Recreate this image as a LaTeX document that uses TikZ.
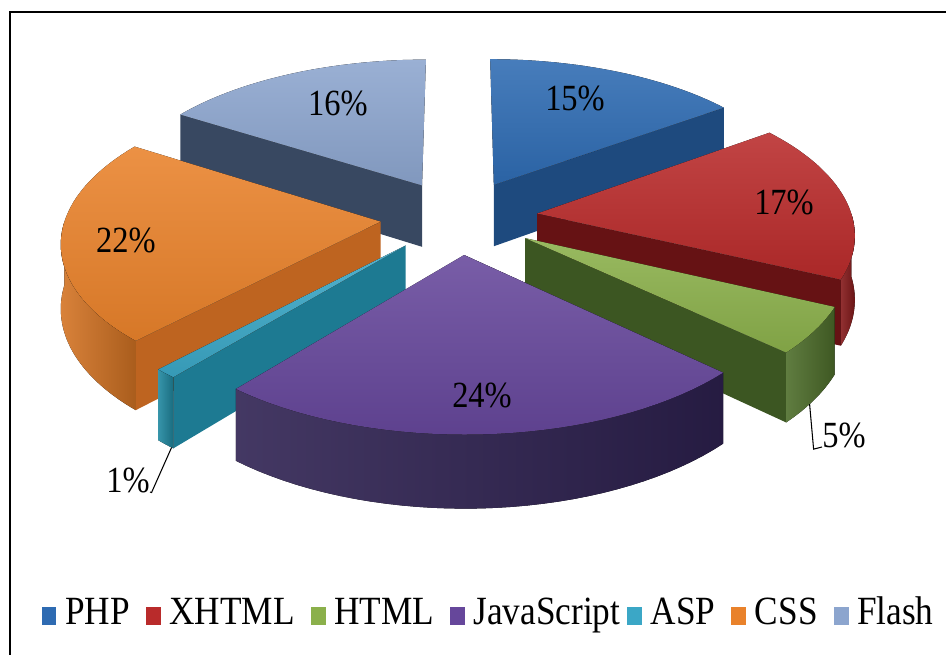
\documentclass[tikz,border=0pt]{standalone}
\usepackage{fontspec}
\setmainfont{Liberation Serif}
\newfontfamily\chartfont[FakeStretch=0.88]{Liberation Serif}
\usetikzlibrary{positioning}

\definecolor{phptop}{HTML}{2E6BB2}
\definecolor{phpside}{HTML}{1E4A7E}
\definecolor{phprim}{HTML}{1E4A7E}
\definecolor{xhtmltop}{HTML}{B92B2B}
\definecolor{xhtmlside}{HTML}{661214}
\definecolor{xhtmlrim}{HTML}{85191B}
\definecolor{htmltop}{HTML}{8BB04B}
\definecolor{htmlside}{HTML}{3C5622}
\definecolor{htmlrim}{HTML}{4E6E2B}
\definecolor{jstop}{HTML}{66479B}
\definecolor{jsside}{HTML}{2C1F4C}
\definecolor{jsrim}{HTML}{2F2252}
\definecolor{asptop}{HTML}{3BA7C6}
\definecolor{aspside}{HTML}{1D7A92}
\definecolor{asprim}{HTML}{2088A0}
\definecolor{csstop}{HTML}{E9822B}
\definecolor{cssside}{HTML}{BE6420}
\definecolor{cssrim}{HTML}{D47424}
\definecolor{flashtop}{HTML}{8CA5CE}
\definecolor{flashside}{HTML}{384861}
\definecolor{flashrim}{HTML}{384861}

\begin{document}
\begin{tikzpicture}[x=0.02cm, y=-0.02cm, samples=36,
    declare function={
        rimu(\ma,\ta,\ra)=0.25*sin(\ma)+\ra*sin(\ta);
        rimv(\ma,\ta,\ra)=0.25*cos(\ma)+\ra*cos(\ta);
        persp(\ma,\ta,\ra)=1/(1+0.12*rimv(\ma,\ta,\ra));
        scrx(\ma,\ta,\ra)=459+315*rimu(\ma,\ta,\ra)*persp(\ma,\ta,\ra);
        scry(\ma,\ta,\ra,\za)=217+(63*\za-148*rimv(\ma,\ta,\ra))*persp(\ma,\ta,\ra);
    }]
    \tikzstyle{topface} = [top color=#1top!88!white, bottom color=#1top!92!black]
    \tikzstyle{sideface} = [fill=#1side]
    \tikzstyle{rimface} = [left color=#1rim!90!white, right color=#1rim!80!black]
    \tikzstyle{pct} = [inner sep=0pt, font=\chartfont\fontsize{21}{24}\selectfont]
    \tikzstyle{swatch} = [inner sep=0pt, minimum width=8.5pt, minimum height=10.8pt]
    \tikzstyle{entry} = [inner sep=0pt, text height=15.1pt, text depth=4.9pt, font=\chartfont\fontsize{22.8}{26}\selectfont]
    \tikzstyle{leader} = [line width=0.6pt]

    \useasboundingbox (0,0) rectangle (946,655);
    \draw[line width=0.8pt] (10,655) -- (10,12) -- (946,12);

    % slices, back to front: bisector/first/last/cut face/wall from/wall to/name
    \foreach \bis/\first/\last/\cut/\wa/\wb/\slice in {
        331.2/302.4/360/302.4/0/0/flash,
        27/0/54/54/0/0/php,
        262.8/223.2/302.4/223.2/223.2/270/css,
        84.6/54/115.2/115.2/90/115.2/xhtml,
        221.4/219.6/223.2/219.6/219.6/223.2/asp,
        124.2/115.2/133.2/133.2/115.2/133.2/html,
        176.4/133.2/219.6/133.2/133.2/219.6/js}
    {
        \fill[sideface=\slice] ({scrx(\bis,\cut,0)},{scry(\bis,\cut,0,0)})
            -- ({scrx(\bis,\cut,1)},{scry(\bis,\cut,1,0)})
            -- ({scrx(\bis,\cut,1)},{scry(\bis,\cut,1,1)})
            -- ({scrx(\bis,\cut,0)},{scry(\bis,\cut,0,1)}) -- cycle;
        \ifdim\wa pt<\wb pt
            \fill[rimface=\slice] plot[domain=\wa:\wb] ({scrx(\bis,\x,1)},{scry(\bis,\x,1,0)})
                -- plot[domain=\wb:\wa] ({scrx(\bis,\x,1)},{scry(\bis,\x,1,1)}) -- cycle;
        \fi
        \fill[topface=\slice] ({scrx(\bis,\first,0)},{scry(\bis,\first,0,0)})
            -- plot[domain=\first:\last] ({scrx(\bis,\x,1)},{scry(\bis,\x,1,0)}) -- cycle;
    }

    % percentages
    \node[pct] (lflash) at (338,103) {16\%};
    \node[pct] (lphp) at (575,98) {15\%};
    \node[pct] (lxhtml) at (784,202) {17\%};
    \node[pct] (lcss) at (126,240) {22\%};
    \node[pct] (ljs) at (482,395) {24\%};
    \node[pct, anchor=base east] (lasp) at (150,492) {1\%};
    \node[pct, anchor=base west] (lhtml) at (822,447) {5\%};

    \coordinate (aspfoot) at ({scrx(221.4,220,1)},{scry(221.4,220,1,1)});
    \coordinate (htmlfoot) at ({scrx(124.2,126,1)},{scry(124.2,126,1,1)});
    \draw[leader] (aspfoot) -- ++(-20,45) -- (lasp.base east);
    \draw[leader] (htmlfoot) -- ++(4,45) -- (lhtml.base west);

    % legend
    \node[swatch, fill=phptop] (kphp) at (49,616) {};
    \node[entry, right=4.5pt of kphp] (tphp) {PHP};
    \node[swatch, fill=xhtmltop, right=8.7pt of tphp] (kxhtml) {};
    \node[entry, right=4.5pt of kxhtml] (txhtml) {XHTML};
    \node[swatch, fill=htmltop, right=8.7pt of txhtml] (khtml) {};
    \node[entry, right=4.5pt of khtml] (thtml) {HTML};
    \node[swatch, fill=jstop, right=8.7pt of thtml] (kjs) {};
    \node[entry, right=4.5pt of kjs] (tjs) {JavaScript};
    \node[swatch, fill=asptop, right=3.5pt of tjs] (kasp) {};
    \node[entry, right=4.5pt of kasp] (tasp) {ASP};
    \node[swatch, fill=csstop, right=8.7pt of tasp] (kcss) {};
    \node[entry, right=4.5pt of kcss] (tcss) {CSS};
    \node[swatch, fill=flashtop, right=8.7pt of tcss] (kflash) {};
    \node[entry, right=4.5pt of kflash] (tflash) {Flash};
\end{tikzpicture}
\end{document}
